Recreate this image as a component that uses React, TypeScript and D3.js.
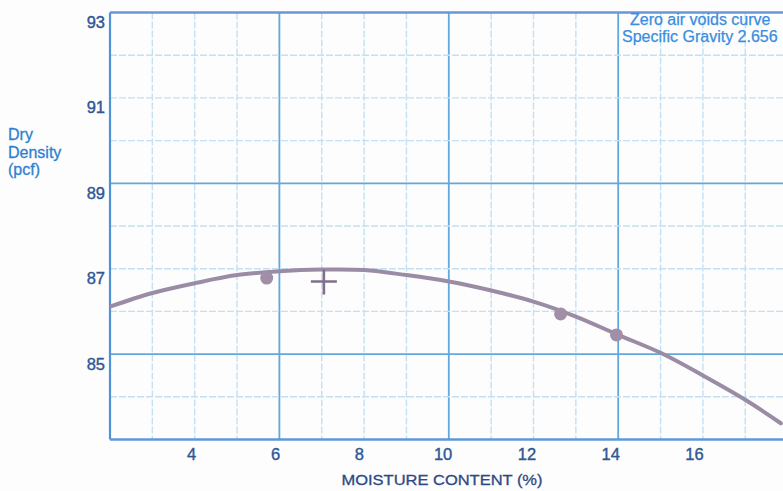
import React from "react";
import * as d3 from "d3";

const curveMoisture = [2.0, 3, 4, 5, 6, 7, 8, 9, 10, 11, 12, 13, 14, 15, 16, 17, 17.84];
const curveDensity = [86.11, 86.43, 86.66, 86.85, 86.94, 86.98, 86.97, 86.85, 86.7, 86.49, 86.23, 85.88, 85.45, 85.03, 84.5, 83.93, 83.38];
const pointMoisture = [5.7, 12.64, 13.96];
const pointDensity = [86.78, 85.94, 85.45];
const optimumMoisture = [7.05];
const optimumDensity = [86.7];
const xTicks = [4, 6, 8, 10, 12, 14, 16];
const yTicks = [85, 87, 89, 91, 93];
const xGrid = d3.range(3, 19, 1);
const yGrid = d3.range(84, 93, 1);
const xMajor = [6, 10, 14];
const yMajor = [85, 89];
const annotationLines = ["Zero air voids curve", "Specific Gravity 2.656"];
const yTitleLines = ["Dry", "Density", "(pcf)"];
const xTitle = "MOISTURE CONTENT (%)";

const W = 783;
const H = 491;
const left = 110;
const top = 12.5;
const bottom = 439.5;

export default function App() {
  const x = d3.scaleLinear().domain([2, 18]).range([left, left + 16 * 42.35]);
  const y = d3.scaleLinear().domain([83, 93]).range([bottom, top]);

  const curveData = curveMoisture.map((m, i) => [m, curveDensity[i]] as [number, number]);
  const line = d3
    .line<[number, number]>()
    .x((d) => x(d[0]))
    .y((d) => y(d[1]))
    .curve(d3.curveCatmullRom.alpha(0.5));

  const font = "'Liberation Sans', Arial, sans-serif";
  const minorColor = "#c3e0f4";
  const majorColor = "#62a8dc";

  return (
    <svg
      width={W}
      height={H}
      style={{ position: "absolute", left: 0, top: 0, background: "#fdfdfd" }}
    >
      <defs>
        <clipPath id="plotClip">
          <rect x={left} y={top} width={W - left} height={bottom - top} />
        </clipPath>
      </defs>
      {xGrid.map((v) => (
        <line
          key={"vx" + v}
          x1={x(v)}
          x2={x(v)}
          y1={top}
          y2={bottom}
          stroke={xMajor.includes(v) ? majorColor : minorColor}
          strokeWidth={xMajor.includes(v) ? 1.8 : 1.4}
          strokeDasharray={xMajor.includes(v) ? undefined : "7 2"}
        />
      ))}
      {yGrid.map((v) => (
        <line
          key={"hy" + v}
          x1={left}
          x2={W}
          y1={y(v)}
          y2={y(v)}
          stroke={yMajor.includes(v) ? majorColor : minorColor}
          strokeWidth={yMajor.includes(v) ? 1.8 : 1.4}
          strokeDasharray={yMajor.includes(v) ? undefined : "7 2"}
        />
      ))}
      <line x1={left} x2={left} y1={top} y2={bottom} stroke="#4f93d6" strokeWidth={2.2} />
      <line x1={left} x2={W} y1={bottom} y2={bottom} stroke="#5d98d8" strokeWidth={2.4} />
      <line x1={left} x2={W} y1={top} y2={top} stroke="#6a96d6" strokeWidth={2.4} />

      <g clipPath="url(#plotClip)">
        <path d={line(curveData) || ""} fill="none" stroke="#9b8ca6" strokeWidth={4} strokeLinecap="round" />
        {pointMoisture.map((m, i) => (
          <circle key={"p" + i} cx={x(m)} cy={y(pointDensity[i])} r={6.5} fill="#a08fa6" />
        ))}
        {optimumMoisture.map((m, i) => (
          <g key={"c" + i} stroke="#7f6f8a" strokeWidth={2.6}>
            <line x1={x(m) - 13} x2={x(m) + 13} y1={y(optimumDensity[i])} y2={y(optimumDensity[i])} />
            <line x1={x(m)} x2={x(m)} y1={y(optimumDensity[i]) - 12} y2={y(optimumDensity[i]) + 13} />
          </g>
        ))}
      </g>

      {yTicks.map((v) => (
        <text
          key={"yt" + v}
          x={left - 5}
          y={y(v) + 15.5}
          textAnchor="end"
          fontFamily={font}
          fontSize={16.5}
          fill="#2f5794"
          stroke="#2f5794"
          strokeWidth={0.4}
        >
          {v}
        </text>
      ))}
      {xTicks.map((v) => (
        <text
          key={"xt" + v}
          x={x(v) - 3 - (v - 4) * 0.45}
          y={460}
          textAnchor="middle"
          fontFamily={font}
          fontSize={16.5}
          fill="#2f5794"
          stroke="#2f5794"
          strokeWidth={0.4}
        >
          {v}
        </text>
      ))}
      <text
        x={442}
        y={485}
        textAnchor="middle"
        fontFamily={font}
        fontSize={14.5}
        fill="#2d4a86"
        stroke="#2d4a86"
        strokeWidth={0.3}
        textLength={201}
        lengthAdjust="spacingAndGlyphs"
      >
        {xTitle}
      </text>
      {yTitleLines.map((t, i) => (
        <text
          key={"ytl" + i}
          x={8}
          y={140 + i * 17.5}
          fontFamily={font}
          fontSize={16}
          fill="#2f7fd2"
          stroke="#2f7fd2"
          strokeWidth={0.3}
        >
          {t}
        </text>
      ))}
      {annotationLines.map((t, i) => (
        <text
          key={"an" + i}
          x={630 - i * 8}
          y={25 + i * 17}
          fontFamily={font}
          fontSize={16}
          fill="#3a8de0"
          stroke="#3a8de0"
          strokeWidth={0.25}
        >
          {t}
        </text>
      ))}
    </svg>
  );
}
